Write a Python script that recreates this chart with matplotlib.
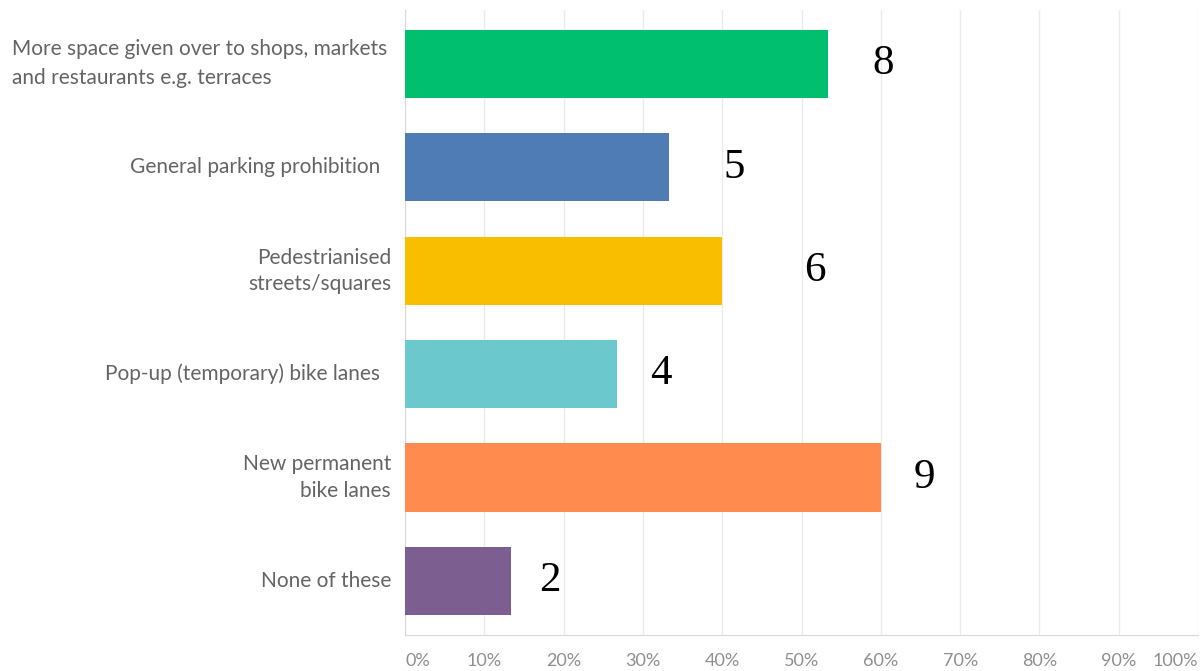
import matplotlib
matplotlib.use("Agg")
import matplotlib.pyplot as plt
from matplotlib.transforms import blended_transform_factory

categories = [
    "More space given over to shops, markets\nand restaurants e.g. terraces",
    "General parking prohibition  ",
    "Pedestrianised\nstreets/squares",
    "Pop-up (temporary) bike lanes  ",
    "New permanent\nbike lanes",
    "None of these",
]
percentages = [53.3, 33.3, 40.0, 26.7, 60.0, 13.3]
counts = [8, 5, 6, 4, 9, 2]
colors = ["#00BF6F", "#507CB6", "#F9BE00", "#6BC8CD", "#FF8B4F", "#7D5E90"]
x_ticks = [0, 10, 20, 30, 40, 50, 60, 70, 80, 90, 100]
x_tick_labels = ["0%", "10%", "20%", "30%", "40%", "50%", "60%", "70%", "80%", "90%", "100%"]
label_offsets_pt = [40, 47, 67, 32, 31, 28.5]

fig = plt.figure(figsize=(12.02, 6.71), dpi=100)
ax = fig.add_axes([0.337, 0.054, 0.6597, 0.931])

y = list(range(len(categories)))
ax.barh(y, percentages, height=0.66, color=colors, zorder=3)
ax.set_xlim(0, 100)
ax.set_ylim(5.52, -0.52)

ax.set_xticks(x_ticks)
ax.set_xticklabels([])
ax.tick_params(axis="x", length=0)
ax.grid(axis="x", color="#ebebeb", linewidth=1, zorder=0)
for s in ["top", "right"]:
    ax.spines[s].set_visible(False)
ax.spines["left"].set_color("#d9d9d9")
ax.spines["bottom"].set_color("#d9d9d9")

ax.set_yticks(y)
ax.set_yticklabels([])
ax.tick_params(axis="y", length=0)

for i, cat in enumerate(categories):
    if i == 0:
        ax.annotate(cat, xy=(0, i), xycoords="data", xytext=(-393, 0), textcoords="offset pixels",
                    ha="left", va="center", multialignment="left", fontsize=15,
                    color="#646464", family="Lato", linespacing=1.55, annotation_clip=False)
    else:
        ax.annotate(cat, xy=(0, i), xycoords="data", xytext=(-14, 0), textcoords="offset pixels",
                    ha="right", va="center", multialignment="right", fontsize=15,
                    color="#646464", family="Lato", linespacing=1.4, annotation_clip=False)

for i, (p, c, off) in enumerate(zip(percentages, counts, label_offsets_pt)):
    ax.annotate(str(c), xy=(p, i), xytext=(off, 0), textcoords="offset points",
                ha="center", va="center", fontsize=31, family="Liberation Serif",
                color="black", annotation_clip=False)

tr = blended_transform_factory(ax.transData, fig.transFigure)
for xt, lab in zip(x_ticks, x_tick_labels):
    ha = "center"
    if xt == 0:
        ha = "left"
    elif xt == 100:
        ha = "right"
    ax.text(xt, 0.015, lab, transform=tr, ha=ha, va="center", fontsize=13,
            color="#8f8f8f", family="Lato", clip_on=False)

fig.savefig("out.png", dpi=100, facecolor="white")
